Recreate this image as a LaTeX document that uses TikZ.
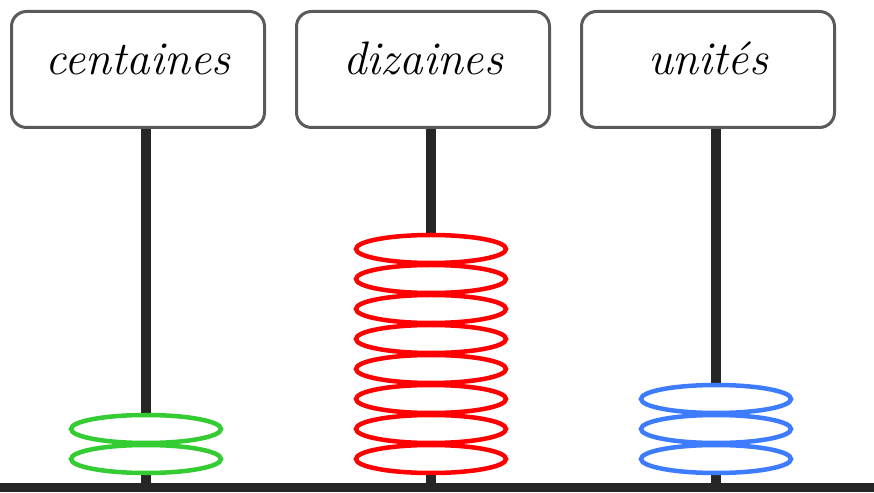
\documentclass[tikz,border=0pt]{standalone}
\usetikzlibrary{positioning}
\definecolor{rodgray}{HTML}{262626}
\definecolor{boxgray}{HTML}{5A5A5A}
\definecolor{ringgreen}{HTML}{33CC33}
\definecolor{ringred}{HTML}{FF0000}
\definecolor{ringblue}{HTML}{3D7BFF}

\begin{document}
\begin{tikzpicture}[x=1pt,y=1pt]
\tikzset{sign/.style={rectangle, draw=boxgray, line width=3pt, fill=white, rounded corners=15pt, minimum width=253pt, minimum height=116pt, inner sep=0pt, outer sep=1.5pt, font=\fontsize{47}{47}\selectfont\itshape, text height=32pt, text depth=21pt},
		rod/.style={line width=10pt, draw=rodgray},
		ring/.style={line width=4.5pt, fill=white}}
\useasboundingbox (0,0) rectangle (874,492);
\coordinate (baseL) at (0,4.5);
\coordinate (baseR) at (874,4.5);
\node[sign] (C) at (138,422.5) {centaines};
\node[sign, right=29pt of C] (D) {dizaines};
\node[sign, right=29pt of D] (U) {unités};
% rods
\foreach \s in {C,D,U} {
	\coordinate (\s-top) at ([xshift=8pt]\s.south);
	\coordinate (\s-foot) at (\s-top |- baseL);
	\draw[rod] (\s-top) -- (\s-foot);
}
% rings
\foreach \s/\n/\c in {C/2/ringgreen, D/8/ringred, U/3/ringblue}
	\foreach \k in {1,...,\n}
		\draw[ring, draw=\c] ([yshift={28.5+30*(\k-1)}]\s-foot) ellipse (75pt and 14pt);
\draw[rod, line width=9pt] (baseL) -- (baseR);
\end{tikzpicture}
\end{document}
